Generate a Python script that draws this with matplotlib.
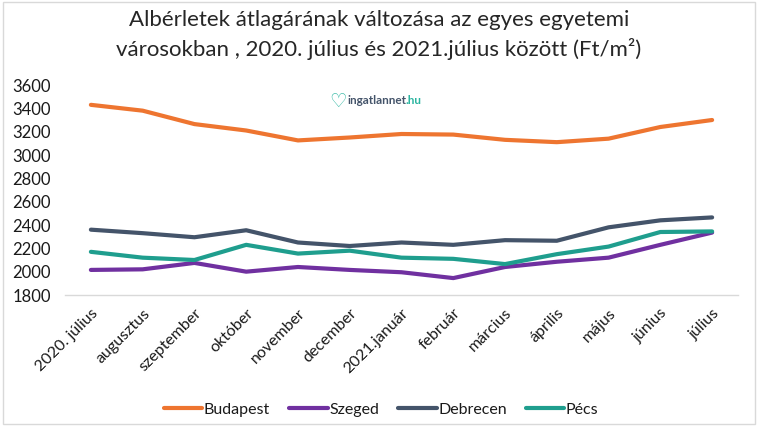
import matplotlib.pyplot as plt
import matplotlib
from matplotlib.patches import Rectangle

matplotlib.rcParams['font.family'] = ['Lato', 'DejaVu Sans']

# havi adatok (Ft/m²), leolvasva az ábráról
honapok = ['2020. július', 'augusztus', 'szeptember', 'október', 'november',
           'december', '2021.január', 'február', 'március', 'április',
           'május', 'június', 'július']
budapest = [3430, 3380, 3265, 3210, 3125, 3150, 3180, 3175, 3130, 3110, 3140, 3240, 3300]
szeged = [2015, 2020, 2075, 2000, 2040, 2015, 1995, 1945, 2040, 2085, 2120, 2230, 2335]
debrecen = [2360, 2330, 2295, 2355, 2250, 2220, 2250, 2230, 2270, 2265, 2380, 2440, 2465]
pecs = [2170, 2120, 2100, 2230, 2155, 2180, 2120, 2110, 2065, 2150, 2215, 2340, 2345]
y_ticks = [1800, 2000, 2200, 2400, 2600, 2800, 3000, 3200, 3400, 3600]

sorozatok = [
    ('Budapest', budapest, '#EE7530'),
    ('Szeged', szeged, '#7030A0'),
    ('Debrecen', debrecen, '#44546A'),
    ('Pécs', pecs, '#1F9E8E'),
]

fig = plt.figure(figsize=(7.58, 4.26), dpi=100)
fig.patches.append(Rectangle((0.004, 0.004), 0.992, 0.992, transform=fig.transFigure,
                             fill=False, edgecolor='#D9D9D9', linewidth=1))
ax = fig.add_axes([65 / 758, 1 - 295 / 426, 673 / 758, 210 / 426])

x = list(range(len(honapok)))
for nev, ertekek, szin in sorozatok:
    ax.plot(x, ertekek, color=szin, linewidth=3, label=nev, solid_capstyle='round')

ax.set_xlim(-0.5, len(honapok) - 0.5)
ax.set_ylim(1800, 3600)
ax.set_yticks(y_ticks)
ax.set_yticklabels([str(v) for v in y_ticks], fontsize=12, color='#1A1A1A')
ax.set_xticks(x)
ax.set_xticklabels(honapok, rotation=45, ha='right', va='top',
                   rotation_mode='anchor', fontsize=11.5, color='#1A1A1A')
ax.tick_params(axis='both', length=0)
ax.tick_params(axis='x', pad=8)
ax.tick_params(axis='y', pad=10)
for s in ['top', 'right', 'left']:
    ax.spines[s].set_visible(False)
ax.spines['bottom'].set_color('#D9D9D9')
ax.spines['bottom'].set_linewidth(1)

fig.text(0.5, 0.953, 'Albérletek átlagárának változása az egyes egyetemi',
         ha='center', va='center', fontsize=16, color='#262626')
fig.text(0.5, 0.885, 'városokban , 2020. július és 2021.július között (Ft/m²)',
         ha='center', va='center', fontsize=16, color='#262626')

# logó
fig.text(338 / 758, 1 - 101 / 426, '♡', ha='center', va='center', fontsize=14,
         color='#2BB5A0', family='DejaVu Sans', fontweight='bold')
t = fig.text(347 / 758, 1 - 101 / 426, 'ingatlannet', ha='left', va='center',
             fontsize=8.5, color='#44546A', fontweight='bold')
fig.canvas.draw()
bb = t.get_window_extent()
fig.text(bb.x1 / fig.bbox.width, 1 - 101 / 426, '.hu', ha='left', va='center',
         fontsize=8.5, color='#2BB5A0', fontweight='bold')

ax.legend(loc='center', bbox_to_anchor=(0.47, -0.545), ncol=4, frameon=False,
          fontsize=11.5, handlelength=2.4, handletextpad=0.1, columnspacing=1.2,
          labelcolor='#1A1A1A')

fig.savefig('out.png', dpi=100)
